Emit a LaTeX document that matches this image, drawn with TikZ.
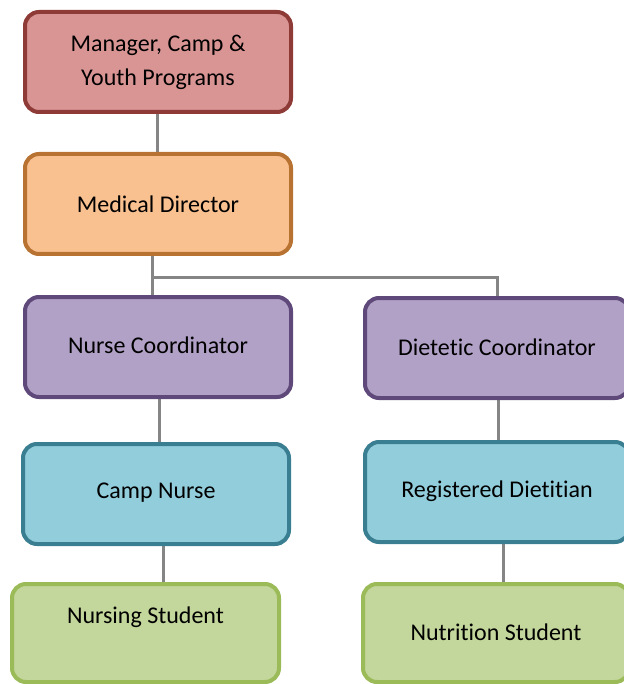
\documentclass[tikz,border=0pt]{standalone}
\usepackage{fontspec}
\setmainfont{Carlito}[Ligatures={NoCommon}]
\usetikzlibrary{backgrounds}
\definecolor{redfill}{HTML}{D99594}
\definecolor{redline}{HTML}{8E3B38}
\definecolor{orfill}{HTML}{F9C090}
\definecolor{orline}{HTML}{B87333}
\definecolor{pufill}{HTML}{B2A1C7}
\definecolor{puline}{HTML}{5F497A}
\definecolor{blfill}{HTML}{92CDDC}
\definecolor{blline}{HTML}{3A7F91}
\definecolor{grfill}{HTML}{C3D69B}
\definecolor{grline}{HTML}{9BBB59}
\definecolor{conn}{HTML}{858585}
\tikzset{
  orgbox/.style={draw, line width=4pt, rounded corners=14pt, inner sep=0pt},
  orgtext/.style={font=\fontsize{24}{34}\selectfont, align=center, inner sep=0pt},
  link/.style={draw=conn, line width=3pt}
}
\begin{document}
\begin{tikzpicture}[x=1pt,y=-1pt]
\useasboundingbox (0,0) rectangle (623,684);
% boxes
\node[orgbox, fill=redfill, draw=redline, minimum width=266pt, minimum height=100pt] (b1) at (158,62) {};
\node[orgbox, fill=orfill, draw=orline, minimum width=266pt, minimum height=100pt] (b2) at (158,204) {};
\node[orgbox, fill=pufill, draw=puline, minimum width=266pt, minimum height=100pt] (b3) at (158,347) {};
\node[orgbox, fill=pufill, draw=puline, minimum width=264pt, minimum height=100pt] (b4) at (497,348) {};
\node[orgbox, fill=blfill, draw=blline, minimum width=266pt, minimum height=100pt] (b5) at (156,494) {};
\node[orgbox, fill=blfill, draw=blline, minimum width=264pt, minimum height=100pt] (b6) at (497,492) {};
\node[orgbox, fill=grfill, draw=grline, minimum width=267pt, minimum height=98pt] (b7) at (145.5,633) {};
\node[orgbox, fill=grfill, draw=grline, minimum width=266pt, minimum height=98pt] (b8) at (496,633) {};
% texts
\node[orgtext] (t1) at (158,62) {Manager, Camp \&\\Youth Programs};
\node[orgtext] (t2) at (158,204) {Medical Director};
\node[orgtext] (t3) at (158,345) {Nurse Coordinator};
\node[orgtext] (t4) at (497,347) {Dietetic Coordinator};
\node[orgtext] (t5) at (156,493) {Camp Nurse};
\node[orgtext] (t6) at (497,491) {Registered Dietitian};
\node[orgtext] (t7) at (145.5,617) {Nursing Student};
\node[orgtext] (t8) at (496,632) {Nutrition Student};
% connectors
\begin{scope}[on background layer]
\draw[link] (b1.south -| 157,0) -- (b2.north -| 157,0);
\coordinate (split) at (152,277);
\draw[link] (b2.south -| split) -- (b3.north -| split);
\draw[link] (split) -| (b4.north -| 497,0);
\draw[link] (b3.south -| 159,0) -- (b5.north -| 159,0);
\draw[link] (b5.south -| 163,0) -- (b7.north -| 163,0);
\draw[link] (b4.south -| 498,0) -- (b6.north -| 498,0);
\draw[link] (b6.south -| 503,0) -- (b8.north -| 503,0);
\end{scope}
\end{tikzpicture}
\end{document}
